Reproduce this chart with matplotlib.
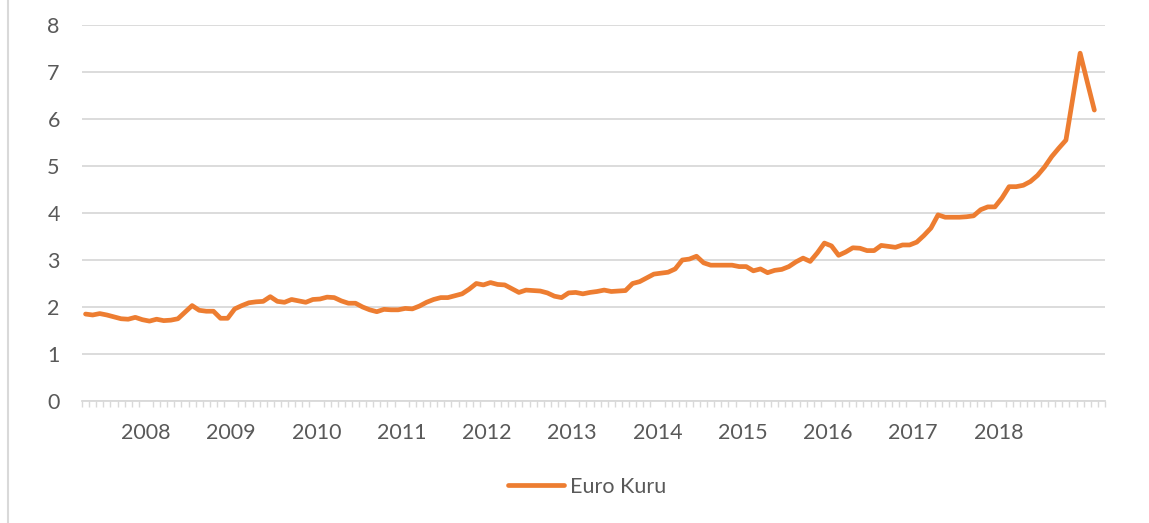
import matplotlib
matplotlib.use("Agg")
import matplotlib.pyplot as plt
from matplotlib.lines import Line2D

# monthly euro rate
euro_kuru = [
    1.85, 1.83, 1.86, 1.83, 1.79, 1.75, 1.74, 1.78, 1.73, 1.70,
    1.74, 1.71, 1.72, 1.75, 1.89, 2.03, 1.93, 1.91, 1.91, 1.76,
    1.76, 1.96, 2.03, 2.09, 2.11, 2.12, 2.22, 2.12, 2.10, 2.16,
    2.13, 2.10, 2.16, 2.17, 2.21, 2.20, 2.13, 2.08, 2.08, 2.00,
    1.94, 1.90, 1.95, 1.94, 1.94, 1.97, 1.96, 2.02, 2.10, 2.16,
    2.20, 2.20, 2.24, 2.28, 2.38, 2.50, 2.47, 2.52, 2.48, 2.47,
    2.39, 2.31, 2.36, 2.35, 2.34, 2.30, 2.23, 2.20, 2.30, 2.31,
    2.28, 2.31, 2.33, 2.36, 2.33, 2.34, 2.35, 2.50, 2.54, 2.62,
    2.70, 2.72, 2.74, 2.81, 3.00, 3.02, 3.08, 2.94, 2.89, 2.89,
    2.89, 2.89, 2.86, 2.86, 2.77, 2.81, 2.73, 2.78, 2.80, 2.86,
    2.96, 3.04, 2.97, 3.15, 3.36, 3.30, 3.10, 3.17, 3.26, 3.25,
    3.20, 3.20, 3.31, 3.29, 3.27, 3.32, 3.32, 3.38, 3.52, 3.68,
    3.96, 3.91, 3.91, 3.91, 3.92, 3.94, 4.07, 4.13, 4.13, 4.32,
    4.56, 4.56, 4.59, 4.67, 4.80, 4.98, 5.20, 5.38, 5.55, 6.48,
    7.40, 6.79, 6.19,
]
n_categories = 144
years = [str(y) for y in range(2008, 2019)]
first_year_offset = 8.5
y_ticks = list(range(0, 9))

line_color = "#ED7D31"
grid_color = "#D9D9D9"
text_color = "#595959"
font_size = 15.5

plt.rcParams["font.family"] = ["Lato", "DejaVu Sans"]

fig = plt.figure(figsize=(11.49, 5.23), dpi=100)
ax = fig.add_axes([82 / 1149, 1 - 401 / 523, 1023 / 1149, 376 / 523])

ax.plot(range(len(euro_kuru)), euro_kuru, color=line_color, lw=3.4,
        solid_capstyle="round", solid_joinstyle="round", label="Euro Kuru")

ax.set_xlim(-0.5, n_categories - 0.5)
ax.set_ylim(0, 8)
ax.set_yticks(y_ticks)
ax.yaxis.grid(True, color=grid_color, lw=1.3)
ax.set_axisbelow(True)

ax.set_xticks([first_year_offset + 12 * k for k in range(len(years))])
ax.set_xticklabels(years)
ax.set_xticks([i - 0.5 for i in range(n_categories + 1)], minor=True)
ax.tick_params(axis="x", which="major", length=0, pad=16, labelsize=font_size, labelcolor=text_color)
ax.tick_params(axis="x", which="minor", length=4, width=1, color=grid_color, direction="out")
ax.tick_params(axis="y", length=0, pad=16, labelsize=font_size, labelcolor=text_color)

for side in ["top", "right", "left"]:
    ax.spines[side].set_visible(False)
ax.spines["bottom"].set_color(grid_color)
ax.spines["bottom"].set_linewidth(1.3)

fig.legend(loc="center", bbox_to_anchor=(587 / 1149, 1 - 487 / 523), frameon=False,
           fontsize=font_size, labelcolor=text_color, handlelength=2.6, handletextpad=0.3)

# chart frame edge on the left
fig.add_artist(Line2D([8 / 1149, 8 / 1149], [0, 1], color=grid_color, lw=1.5,
                      transform=fig.transFigure))

fig.savefig("out.png", dpi=100)
